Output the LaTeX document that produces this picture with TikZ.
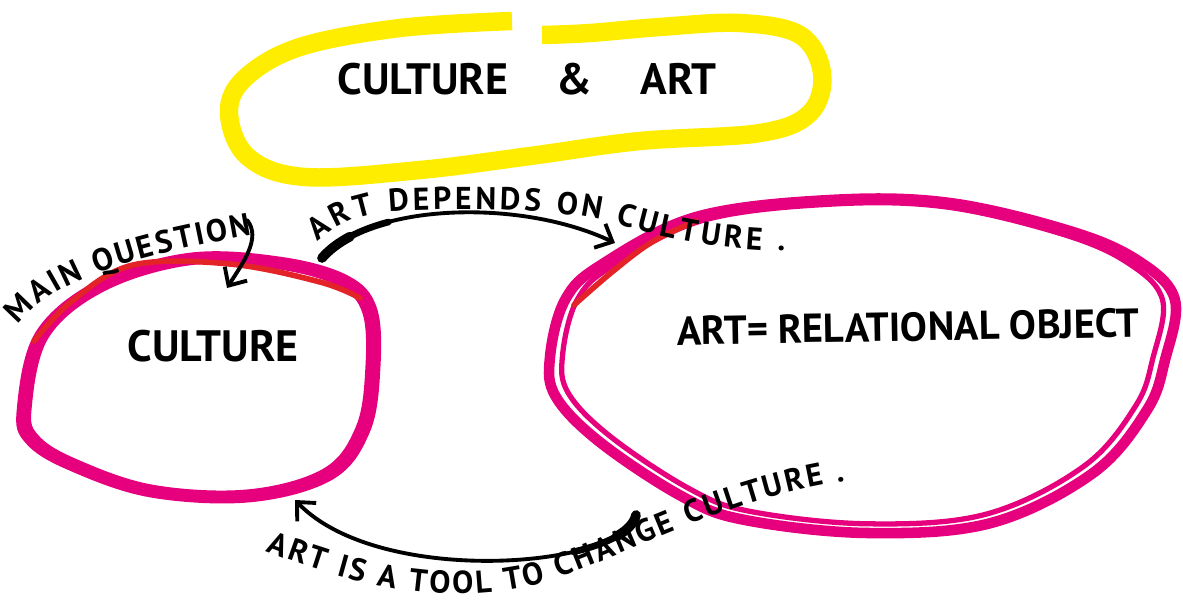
\documentclass[tikz,border=0pt]{standalone}
\usepackage{fontspec}
\setmainfont{PT Sans}
\usetikzlibrary{arrows.meta,decorations.text}
\definecolor{markeryellow}{HTML}{FFED00}
\definecolor{pinkink}{HTML}{E6007E}
\definecolor{redink}{HTML}{E42328}
\newcommand\handfont{\bfseries\fontsize{18}{20}\selectfont}
\tikzset{
  yellowpen/.style={draw=markeryellow, line width=10.5pt},
  pinkpen/.style={draw=pinkink, line width=6pt},
  redpen/.style={draw=redink, line width=3.2pt, line cap=round},
  inkarrow/.style={line width=2.2pt, line cap=round, -{Straight Barb[length=8pt,width=15pt]}},
  handtext/.style={inner sep=0pt, font=\bfseries\fontsize{#1}{#1}\selectfont},
  handtext/.default=20,
  handpath/.style={decorate, decoration={text along path, text align={fit to path}, text={|\handfont|#1}}}
}
\begin{document}
\begin{tikzpicture}[x=0.02cm, y=0.02cm]
\useasboundingbox (0,0) rectangle (1183,603);
% yellow marker loop
\draw[yellowpen] plot[smooth, tension=0.6] coordinates {(512,582) (400,575) (300,556) (245,525) (229,490) (248,446) (305,426) (420,433) (530,447) (640,462) (760,470) (810,490) (822,530) (800,568) (740,580) (660,576) (590,570) (542,568)};
% the two pink loops, each drawn twice
\foreach \f/\w in {1/6pt, 0.96/3pt}{
  \draw[pinkpen, line width=\w, scale around={\f:(197,230)}] plot[smooth cycle, tension=0.6] coordinates {(22,193) (40,268) (100,318) (190,345) (280,341) (345,323) (372,293) (375,233) (365,173) (330,128) (250,106) (150,111) (70,138) (30,163)};
  \draw[pinkpen, line width=\w, scale around={\f:(865,300)}] plot[smooth cycle, tension=0.6] coordinates {(550,246) (565,303) (601,338) (696,386) (830,403) (950,400) (1073,371) (1140,341) (1175,303) (1165,243) (1147,193) (1093,130) (991,80) (868,70) (745,83) (683,106) (601,160) (556,206)};
}
\draw[redpen] plot[smooth, tension=0.6] coordinates {(34,262) (72,302) (133,338) (230,339) (320,321) (360,305)};
\draw[redpen] plot[smooth, tension=0.6] coordinates {(574,298) (612,331) (652,361) (696,382)};

% texts
\node[handtext=25] (title) at (527,524) {CULTURE\hspace{1.1em}\&\hspace{1.1em}ART};
\node[handtext=25] (culture) at (213,257) {CULTURE};
\node[handtext=23, rotate=1] (relobj) at (908,276) {ART= RELATIONAL OBJECT};

% arrows
\coordinate (dep-start) at (322,345);
\coordinate (dep-end) at (615,360);
\coordinate (tool-start) at (636,88);
\coordinate (tool-end) at (295,103);
\coordinate (q-start) at (247,383);
\coordinate (q-end) at (227,315);
\draw[inkarrow] (dep-start) .. controls (370,400) and (520,405) .. (dep-end);
\draw[line width=3.8pt, line cap=round] (dep-start) .. controls (336.4,361.5) and (360,373.5) .. (388.5,381);
\draw[line width=5.5pt, line cap=round] (dep-start) .. controls (329.2,353.25) and (338.7,360.4) .. (350,366.4);
\draw[inkarrow] (tool-start) .. controls (625,35) and (380,15) .. (tool-end);
\draw[line width=3.8pt, line cap=round] (tool-start) .. controls (632.7,72.1) and (608.3,59.2) .. (573.5,51.2);
\draw[line width=5.5pt, line cap=round] (tool-start) .. controls (634.35,80.05) and (627.4,72.8) .. (616.5,66.6);
\draw[inkarrow] (q-start) .. controls (262,365) and (242,339) .. (q-end);

% labels along the arrows
\path[handpath={MAIN QUESTION}] (18,278) .. controls (50,320) and (120,345) .. (252,368);
\path[handpath={ART DEPENDS ON CULTURE .}] (318,361) .. controls (345,385) and (370,392) .. (420,393) .. controls (500,395) and (580,392) .. (620,378) .. controls (680,360) and (740,352) .. (785,352);
\path[handpath={ART IS A TOOL TO CHANGE CULTURE .}] (266,52) .. controls (360,15) and (440,0) .. (520,15) .. controls (600,30) and (700,100) .. (845,122);
\end{tikzpicture}
\end{document}
